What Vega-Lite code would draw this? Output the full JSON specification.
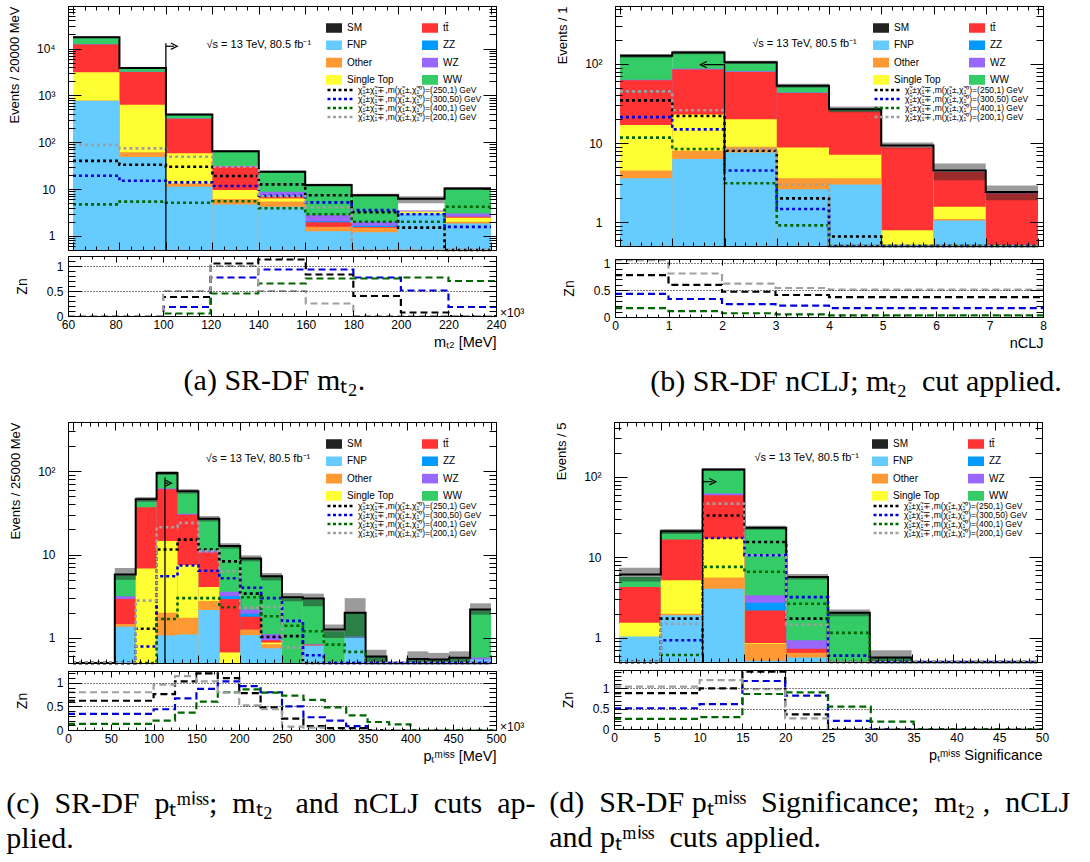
{
"$schema":"https://vega.github.io/schema/vega-lite/v6.json",
"background":"white",
"padding":{"left":6,"top":5,"right":0,"bottom":0},
"config":{
 "font":"Liberation Sans",
 "view":{"stroke":"black","strokeWidth":1},
 "axis":{"labelFont":"Liberation Sans","labelFontSize":12,"labelColor":"black","titleFont":"Liberation Sans","titleFontWeight":"normal","titleColor":"black","tickColor":"black","tickWidth":1,"domainColor":"black","domainWidth":1,"grid":false,"labelFlush":false,"labelOverlap":false},
 "legend":{"labelFont":"Liberation Sans","labelColor":"black"},
 "title":{"font":"Liberation Serif","fontSize":30,"fontWeight":"normal","color":"black"}
},
"datasets":{
"stack":[
{"p":"a","c":"WW","lo":60,"hi":80,"v":17000},{"p":"a","c":"WW","lo":80,"hi":100,"v":3800},{"p":"a","c":"WW","lo":100,"hi":120,"v":385},{"p":"a","c":"WW","lo":120,"hi":140,"v":64},{"p":"a","c":"WW","lo":140,"hi":160,"v":23.5},{"p":"a","c":"WW","lo":160,"hi":180,"v":12.2},{"p":"a","c":"WW","lo":180,"hi":200,"v":7.4},{"p":"a","c":"WW","lo":220,"hi":240,"v":10.3},
{"p":"b","c":"WW","lo":0,"hi":1,"v":125},{"p":"b","c":"WW","lo":1,"hi":2,"v":137},{"p":"b","c":"WW","lo":2,"hi":3,"v":103},{"p":"b","c":"WW","lo":3,"hi":4,"v":52},{"p":"b","c":"WW","lo":4,"hi":5,"v":26.5},
{"p":"c","c":"WW","lo":50,"hi":75,"v":5.6},{"p":"c","c":"WW","lo":75,"hi":100,"v":45},{"p":"c","c":"WW","lo":100,"hi":125,"v":94},{"p":"c","c":"WW","lo":125,"hi":150,"v":56},{"p":"c","c":"WW","lo":150,"hi":175,"v":26.5},{"p":"c","c":"WW","lo":175,"hi":200,"v":12.5},{"p":"c","c":"WW","lo":200,"hi":225,"v":9.0},{"p":"c","c":"WW","lo":225,"hi":250,"v":5.4},{"p":"c","c":"WW","lo":250,"hi":275,"v":3.0},{"p":"c","c":"WW","lo":275,"hi":300,"v":2.9},{"p":"c","c":"WW","lo":300,"hi":325,"v":1.2},{"p":"c","c":"WW","lo":325,"hi":350,"v":2.0},{"p":"c","c":"WW","lo":350,"hi":375,"v":0.6},{"p":"c","c":"WW","lo":400,"hi":425,"v":0.56},{"p":"c","c":"WW","lo":425,"hi":450,"v":0.55},{"p":"c","c":"WW","lo":450,"hi":475,"v":0.57},{"p":"c","c":"WW","lo":475,"hi":500,"v":2.15},
{"p":"d","c":"WW","lo":0,"hi":5,"v":5.7},{"p":"d","c":"WW","lo":5,"hi":10,"v":20.7},{"p":"d","c":"WW","lo":10,"hi":15,"v":121},{"p":"d","c":"WW","lo":15,"hi":20,"v":23.2},{"p":"d","c":"WW","lo":20,"hi":25,"v":5.6},{"p":"d","c":"WW","lo":25,"hi":30,"v":2.03},{"p":"d","c":"WW","lo":30,"hi":35,"v":0.56},
{"p":"a","c":"WZ","lo":60,"hi":80,"v":12300},{"p":"a","c":"WZ","lo":80,"hi":100,"v":3200},{"p":"a","c":"WZ","lo":100,"hi":120,"v":320},{"p":"a","c":"WZ","lo":120,"hi":140,"v":31},{"p":"a","c":"WZ","lo":140,"hi":160,"v":8.8},{"p":"a","c":"WZ","lo":160,"hi":180,"v":2.8},{"p":"a","c":"WZ","lo":180,"hi":200,"v":2.0},{"p":"a","c":"WZ","lo":200,"hi":220,"v":3.5},{"p":"a","c":"WZ","lo":220,"hi":240,"v":3.0},
{"p":"b","c":"WZ","lo":0,"hi":1,"v":63},{"p":"b","c":"WZ","lo":1,"hi":2,"v":87},{"p":"b","c":"WZ","lo":2,"hi":3,"v":81},{"p":"b","c":"WZ","lo":3,"hi":4,"v":43.5},{"p":"b","c":"WZ","lo":7,"hi":8,"v":2.35},
{"p":"c","c":"WZ","lo":50,"hi":75,"v":3.16},{"p":"c","c":"WZ","lo":100,"hi":125,"v":62},{"p":"c","c":"WZ","lo":125,"hi":150,"v":31},{"p":"c","c":"WZ","lo":150,"hi":175,"v":11.1},{"p":"c","c":"WZ","lo":175,"hi":200,"v":3.58},{"p":"c","c":"WZ","lo":200,"hi":225,"v":2.2},{"p":"c","c":"WZ","lo":225,"hi":250,"v":1.11},{"p":"c","c":"WZ","lo":275,"hi":300,"v":0.84},{"p":"c","c":"WZ","lo":475,"hi":500,"v":0.58},
{"p":"d","c":"WZ","lo":10,"hi":15,"v":62},{"p":"d","c":"WZ","lo":15,"hi":20,"v":3.37},{"p":"d","c":"WZ","lo":20,"hi":25,"v":0.93},
{"p":"a","c":"ZZ","lo":140,"hi":160,"v":7.4},{"p":"a","c":"ZZ","lo":160,"hi":180,"v":2.06},{"p":"a","c":"ZZ","lo":180,"hi":200,"v":1.65},
{"p":"c","c":"ZZ","lo":175,"hi":200,"v":3.16},{"p":"c","c":"ZZ","lo":200,"hi":225,"v":1.95},
{"p":"d","c":"ZZ","lo":15,"hi":20,"v":2.73},
{"p":"a","c":"tt\u0304","lo":60,"hi":80,"v":12200},{"p":"a","c":"tt\u0304","lo":80,"hi":100,"v":3160},{"p":"a","c":"tt\u0304","lo":100,"hi":120,"v":316},{"p":"a","c":"tt\u0304","lo":120,"hi":140,"v":30},{"p":"a","c":"tt\u0304","lo":140,"hi":160,"v":6.9},{"p":"a","c":"tt\u0304","lo":160,"hi":180,"v":1.95},{"p":"a","c":"tt\u0304","lo":180,"hi":200,"v":1.55},{"p":"a","c":"tt\u0304","lo":220,"hi":240,"v":2.55},
{"p":"b","c":"tt\u0304","lo":0,"hi":1,"v":62},{"p":"b","c":"tt\u0304","lo":1,"hi":2,"v":85},{"p":"b","c":"tt\u0304","lo":2,"hi":3,"v":79},{"p":"b","c":"tt\u0304","lo":3,"hi":4,"v":43},{"p":"b","c":"tt\u0304","lo":4,"hi":5,"v":25},{"p":"b","c":"tt\u0304","lo":5,"hi":6,"v":8.8},{"p":"b","c":"tt\u0304","lo":6,"hi":7,"v":4.3},{"p":"b","c":"tt\u0304","lo":7,"hi":8,"v":2.3},
{"p":"c","c":"tt\u0304","lo":50,"hi":75,"v":2.94},{"p":"c","c":"tt\u0304","lo":75,"hi":100,"v":37},{"p":"c","c":"tt\u0304","lo":100,"hi":125,"v":61},{"p":"c","c":"tt\u0304","lo":125,"hi":150,"v":30},{"p":"c","c":"tt\u0304","lo":150,"hi":175,"v":10.6},{"p":"c","c":"tt\u0304","lo":175,"hi":200,"v":2.94},{"p":"c","c":"tt\u0304","lo":200,"hi":225,"v":1.8},{"p":"c","c":"tt\u0304","lo":225,"hi":250,"v":0.94},{"p":"c","c":"tt\u0304","lo":275,"hi":300,"v":0.83},
{"p":"d","c":"tt\u0304","lo":0,"hi":5,"v":4.27},{"p":"d","c":"tt\u0304","lo":5,"hi":10,"v":16.6},{"p":"d","c":"tt\u0304","lo":10,"hi":15,"v":59},{"p":"d","c":"tt\u0304","lo":15,"hi":20,"v":2.19},{"p":"d","c":"tt\u0304","lo":20,"hi":25,"v":0.73},
{"p":"a","c":"Single Top","lo":60,"hi":80,"v":3100},{"p":"a","c":"Single Top","lo":80,"hi":100,"v":630},{"p":"a","c":"Single Top","lo":100,"hi":120,"v":58},{"p":"a","c":"Single Top","lo":120,"hi":140,"v":9.5},{"p":"a","c":"Single Top","lo":140,"hi":160,"v":6.3},{"p":"a","c":"Single Top","lo":200,"hi":220,"v":3.3},{"p":"a","c":"Single Top","lo":220,"hi":240,"v":2.43},
{"p":"b","c":"Single Top","lo":0,"hi":1,"v":16.9},{"p":"b","c":"Single Top","lo":1,"hi":2,"v":23},{"p":"b","c":"Single Top","lo":2,"hi":3,"v":20},{"p":"b","c":"Single Top","lo":3,"hi":4,"v":8.8},{"p":"b","c":"Single Top","lo":4,"hi":5,"v":7.1},{"p":"b","c":"Single Top","lo":5,"hi":6,"v":0.79},{"p":"b","c":"Single Top","lo":6,"hi":7,"v":1.57},
{"p":"c","c":"Single Top","lo":75,"hi":100,"v":6.8},{"p":"c","c":"Single Top","lo":100,"hi":125,"v":14.6},{"p":"c","c":"Single Top","lo":125,"hi":150,"v":7.5},{"p":"c","c":"Single Top","lo":150,"hi":175,"v":4.07},{"p":"c","c":"Single Top","lo":175,"hi":200,"v":0.67},{"p":"c","c":"Single Top","lo":225,"hi":250,"v":0.88},
{"p":"d","c":"Single Top","lo":0,"hi":5,"v":1.54},{"p":"d","c":"Single Top","lo":5,"hi":10,"v":5.2},{"p":"d","c":"Single Top","lo":10,"hi":15,"v":17.1},{"p":"d","c":"Single Top","lo":15,"hi":20,"v":0.86},
{"p":"a","c":"Other","lo":60,"hi":80,"v":780},{"p":"a","c":"Other","lo":80,"hi":100,"v":61},{"p":"a","c":"Other","lo":100,"hi":120,"v":13.2},{"p":"a","c":"Other","lo":120,"hi":140,"v":6.1},{"p":"a","c":"Other","lo":140,"hi":160,"v":5.4},{"p":"a","c":"Other","lo":160,"hi":180,"v":1.56},{"p":"a","c":"Other","lo":180,"hi":200,"v":1.5},{"p":"a","c":"Other","lo":220,"hi":240,"v":2.0},
{"p":"b","c":"Other","lo":0,"hi":1,"v":4.5},{"p":"b","c":"Other","lo":1,"hi":2,"v":8.0},{"p":"b","c":"Other","lo":2,"hi":3,"v":9.0},{"p":"b","c":"Other","lo":3,"hi":4,"v":3.6},{"p":"b","c":"Other","lo":4,"hi":5,"v":3.6},{"p":"b","c":"Other","lo":6,"hi":7,"v":1.1},
{"p":"c","c":"Other","lo":50,"hi":75,"v":1.47},{"p":"c","c":"Other","lo":100,"hi":125,"v":2.0},{"p":"c","c":"Other","lo":125,"hi":150,"v":1.75},{"p":"c","c":"Other","lo":150,"hi":175,"v":2.78},{"p":"c","c":"Other","lo":200,"hi":225,"v":1.26},{"p":"c","c":"Other","lo":225,"hi":250,"v":0.84},
{"p":"d","c":"Other","lo":5,"hi":10,"v":1.99},{"p":"d","c":"Other","lo":10,"hi":15,"v":5.6},{"p":"d","c":"Other","lo":15,"hi":20,"v":0.84},{"p":"d","c":"Other","lo":20,"hi":25,"v":0.65},
{"p":"a","c":"FNP","lo":60,"hi":80,"v":770},{"p":"a","c":"FNP","lo":80,"hi":100,"v":48.5},{"p":"a","c":"FNP","lo":100,"hi":120,"v":11.2},{"p":"a","c":"FNP","lo":120,"hi":140,"v":4.7},{"p":"a","c":"FNP","lo":140,"hi":160,"v":4.2},{"p":"a","c":"FNP","lo":160,"hi":180,"v":1.26},{"p":"a","c":"FNP","lo":180,"hi":200,"v":1.2},{"p":"a","c":"FNP","lo":200,"hi":220,"v":3.0},{"p":"a","c":"FNP","lo":220,"hi":240,"v":1.84},
{"p":"b","c":"FNP","lo":0,"hi":1,"v":3.6},{"p":"b","c":"FNP","lo":1,"hi":2,"v":6.3},{"p":"b","c":"FNP","lo":2,"hi":3,"v":7.6},{"p":"b","c":"FNP","lo":3,"hi":4,"v":2.6},{"p":"b","c":"FNP","lo":4,"hi":5,"v":3.0},{"p":"b","c":"FNP","lo":6,"hi":7,"v":1.05},
{"p":"c","c":"FNP","lo":50,"hi":75,"v":1.36},{"p":"c","c":"FNP","lo":100,"hi":125,"v":1.07},{"p":"c","c":"FNP","lo":125,"hi":150,"v":1.1},{"p":"c","c":"FNP","lo":150,"hi":175,"v":2.17},{"p":"c","c":"FNP","lo":200,"hi":225,"v":1.08},{"p":"c","c":"FNP","lo":225,"hi":250,"v":0.75},{"p":"c","c":"FNP","lo":275,"hi":300,"v":0.81},{"p":"c","c":"FNP","lo":325,"hi":350,"v":1.05},{"p":"c","c":"FNP","lo":475,"hi":500,"v":0.55},
{"p":"d","c":"FNP","lo":0,"hi":5,"v":1.04},{"p":"d","c":"FNP","lo":5,"hi":10,"v":1.9},{"p":"d","c":"FNP","lo":10,"hi":15,"v":4.07},{"p":"d","c":"FNP","lo":15,"hi":20,"v":0.52},{"p":"d","c":"FNP","lo":20,"hi":25,"v":0.57}
],
"band":[
{"p":"a","lo":60,"hi":80,"dn":16800,"up":18300},{"p":"a","lo":80,"hi":100,"dn":3700,"up":4000},{"p":"a","lo":100,"hi":120,"dn":375,"up":405},{"p":"a","lo":120,"hi":140,"dn":61,"up":67},{"p":"a","lo":140,"hi":160,"dn":22.3,"up":24.8},{"p":"a","lo":160,"hi":180,"dn":11.4,"up":13.0},{"p":"a","lo":180,"hi":200,"dn":6.9,"up":7.9},{"p":"a","lo":200,"hi":220,"dn":5.0,"up":7.0},{"p":"a","lo":220,"hi":240,"dn":9.6,"up":11.0},
{"p":"b","lo":0,"hi":1,"dn":120,"up":134},{"p":"b","lo":1,"hi":2,"dn":133,"up":147},{"p":"b","lo":2,"hi":3,"dn":100,"up":110},{"p":"b","lo":3,"hi":4,"dn":50,"up":56},{"p":"b","lo":4,"hi":5,"dn":24.5,"up":29},{"p":"b","lo":5,"hi":6,"dn":8.6,"up":10.2},{"p":"b","lo":6,"hi":7,"dn":3.4,"up":5.5},{"p":"b","lo":7,"hi":8,"dn":1.9,"up":2.9},
{"p":"c","lo":50,"hi":75,"dn":5.0,"up":6.9},{"p":"c","lo":75,"hi":100,"dn":43,"up":49},{"p":"c","lo":100,"hi":125,"dn":90,"up":100},{"p":"c","lo":125,"hi":150,"dn":54,"up":61},{"p":"c","lo":150,"hi":175,"dn":25,"up":29},{"p":"c","lo":175,"hi":200,"dn":11.8,"up":13.7},{"p":"c","lo":200,"hi":225,"dn":8.3,"up":9.8},{"p":"c","lo":225,"hi":250,"dn":4.9,"up":6.0},{"p":"c","lo":250,"hi":275,"dn":2.75,"up":3.45},{"p":"c","lo":275,"hi":300,"dn":2.4,"up":3.4},{"p":"c","lo":300,"hi":325,"dn":1.0,"up":1.45},{"p":"c","lo":325,"hi":350,"dn":1.0,"up":3.0},{"p":"c","lo":350,"hi":375,"dn":0.5,"up":0.72},{"p":"c","lo":400,"hi":425,"dn":0.5,"up":0.69},{"p":"c","lo":425,"hi":450,"dn":0.5,"up":0.66},{"p":"c","lo":450,"hi":475,"dn":0.5,"up":0.69},{"p":"c","lo":475,"hi":500,"dn":1.9,"up":2.6},
{"p":"d","lo":0,"hi":5,"dn":5.0,"up":7.4},{"p":"d","lo":5,"hi":10,"dn":19.5,"up":22.5},{"p":"d","lo":10,"hi":15,"dn":118,"up":128},{"p":"d","lo":15,"hi":20,"dn":22,"up":24.6},{"p":"d","lo":20,"hi":25,"dn":5.3,"up":6.2},{"p":"d","lo":25,"hi":30,"dn":1.85,"up":2.25},{"p":"d","lo":30,"hi":35,"dn":0.5,"up":0.7}
],
"tot":[
{"p":"a","x":60,"v":17500},{"p":"a","x":80,"v":3850},{"p":"a","x":100,"v":390},{"p":"a","x":120,"v":64},{"p":"a","x":140,"v":23.5},{"p":"a","x":160,"v":12.2},{"p":"a","x":180,"v":7.4},{"p":"a","x":200,"v":6.2},{"p":"a","x":220,"v":10.3},{"p":"a","x":240,"v":10.3},
{"p":"b","x":0,"v":127},{"p":"b","x":1,"v":140},{"p":"b","x":2,"v":105},{"p":"b","x":3,"v":53},{"p":"b","x":4,"v":26.7},{"p":"b","x":5,"v":9.3},{"p":"b","x":6,"v":4.5},{"p":"b","x":7,"v":2.4},{"p":"b","x":8,"v":2.4},
{"p":"c","x":0,"v":0},{"p":"c","x":25,"v":0},{"p":"c","x":50,"v":5.75},{"p":"c","x":75,"v":46},{"p":"c","x":100,"v":95},{"p":"c","x":125,"v":57.5},{"p":"c","x":150,"v":27},{"p":"c","x":175,"v":12.7},{"p":"c","x":200,"v":9.0},{"p":"c","x":225,"v":5.5},{"p":"c","x":250,"v":3.08},{"p":"c","x":275,"v":2.97},{"p":"c","x":300,"v":1.26},{"p":"c","x":325,"v":2.0},{"p":"c","x":350,"v":0.6},{"p":"c","x":375,"v":0},{"p":"c","x":400,"v":0.56},{"p":"c","x":425,"v":0.55},{"p":"c","x":450,"v":0.58},{"p":"c","x":475,"v":2.19},{"p":"c","x":500,"v":2.19},
{"p":"d","x":0,"v":6.1},{"p":"d","x":5,"v":21},{"p":"d","x":10,"v":123},{"p":"d","x":15,"v":23.3},{"p":"d","x":20,"v":5.7},{"p":"d","x":25,"v":2.05},{"p":"d","x":30,"v":0.57},{"p":"d","x":35,"v":0},{"p":"d","x":40,"v":0},{"p":"d","x":45,"v":0},{"p":"d","x":50,"v":0}
],
"sig":[
{"p":"a","s":"k","x":60,"ev":40,"zn":0},{"p":"a","s":"k","x":80,"ev":33,"zn":0},{"p":"a","s":"k","x":100,"ev":30,"zn":0.38},{"p":"a","s":"k","x":120,"ev":19,"zn":1.05},{"p":"a","s":"k","x":140,"ev":12.6,"zn":1.13},{"p":"a","s":"k","x":160,"ev":7.4,"zn":0.83},{"p":"a","s":"k","x":180,"ev":3.2,"zn":0.4},{"p":"a","s":"k","x":200,"ev":1.5,"zn":0.07},{"p":"a","s":"k","x":220,"ev":0,"zn":0},{"p":"a","s":"k","x":240,"ev":0,"zn":0},
{"p":"a","s":"b","x":60,"ev":19.3,"zn":0},{"p":"a","s":"b","x":80,"ev":15,"zn":0},{"p":"a","s":"b","x":100,"ev":13.9,"zn":0.18},{"p":"a","s":"b","x":120,"ev":11.6,"zn":0.77},{"p":"a","s":"b","x":140,"ev":7.2,"zn":0.93},{"p":"a","s":"b","x":160,"ev":5.2,"zn":0.93},{"p":"a","s":"b","x":180,"ev":3.55,"zn":0.77},{"p":"a","s":"b","x":200,"ev":2.9,"zn":0.51},{"p":"a","s":"b","x":220,"ev":1.56,"zn":0.18},{"p":"a","s":"b","x":240,"ev":1.56,"zn":0.18},
{"p":"a","s":"g","x":60,"ev":4.7,"zn":0},{"p":"a","s":"g","x":80,"ev":5.4,"zn":0},{"p":"a","s":"g","x":100,"ev":5.1,"zn":0.05},{"p":"a","s":"g","x":120,"ev":5.5,"zn":0.45},{"p":"a","s":"g","x":140,"ev":3.9,"zn":0.65},{"p":"a","s":"g","x":160,"ev":2.9,"zn":0.75},{"p":"a","s":"g","x":180,"ev":2.0,"zn":0.75},{"p":"a","s":"g","x":200,"ev":2.0,"zn":0.77},{"p":"a","s":"g","x":220,"ev":4.2,"zn":0.7},{"p":"a","s":"g","x":240,"ev":4.2,"zn":0.7},
{"p":"a","s":"y","x":60,"ev":88,"zn":0},{"p":"a","s":"y","x":80,"ev":74,"zn":0},{"p":"a","s":"y","x":100,"ev":49,"zn":0.5},{"p":"a","s":"y","x":120,"ev":30,"zn":1.0},{"p":"a","s":"y","x":140,"ev":7,"zn":0.5},{"p":"a","s":"y","x":160,"ev":4.1,"zn":0.25},{"p":"a","s":"y","x":180,"ev":0,"zn":0},{"p":"a","s":"y","x":200,"ev":0,"zn":0},{"p":"a","s":"y","x":220,"ev":0,"zn":0},{"p":"a","s":"y","x":240,"ev":0,"zn":0},
{"p":"b","s":"k","x":0,"ev":34.6,"zn":0.78},{"p":"b","s":"k","x":1,"ev":22,"zn":0.6},{"p":"b","s":"k","x":2,"ev":8,"zn":0.47},{"p":"b","s":"k","x":3,"ev":2,"zn":0.41},{"p":"b","s":"k","x":4,"ev":0.66,"zn":0.37},{"p":"b","s":"k","x":5,"ev":0,"zn":0.37},{"p":"b","s":"k","x":6,"ev":0,"zn":0.37},{"p":"b","s":"k","x":7,"ev":0,"zn":0.37},{"p":"b","s":"k","x":8,"ev":0,"zn":0.37},
{"p":"b","s":"b","x":0,"ev":21.3,"zn":0.43},{"p":"b","s":"b","x":1,"ev":14.9,"zn":0.335},{"p":"b","s":"b","x":2,"ev":4.5,"zn":0.24},{"p":"b","s":"b","x":3,"ev":1.47,"zn":0.21},{"p":"b","s":"b","x":4,"ev":0,"zn":0.165},{"p":"b","s":"b","x":5,"ev":0,"zn":0.165},{"p":"b","s":"b","x":6,"ev":0,"zn":0.165},{"p":"b","s":"b","x":7,"ev":0,"zn":0.165},{"p":"b","s":"b","x":8,"ev":0,"zn":0.165},
{"p":"b","s":"g","x":0,"ev":11.7,"zn":0.165},{"p":"b","s":"g","x":1,"ev":8.4,"zn":0.11},{"p":"b","s":"g","x":2,"ev":3.1,"zn":0.07},{"p":"b","s":"g","x":3,"ev":0.91,"zn":0.05},{"p":"b","s":"g","x":4,"ev":0,"zn":0.03},{"p":"b","s":"g","x":5,"ev":0,"zn":0.03},{"p":"b","s":"g","x":6,"ev":0,"zn":0.03},{"p":"b","s":"g","x":7,"ev":0,"zn":0.03},{"p":"b","s":"g","x":8,"ev":0,"zn":0.03},
{"p":"b","s":"y","x":0,"ev":45,"zn":1.06},{"p":"b","s":"y","x":1,"ev":26,"zn":0.81},{"p":"b","s":"y","x":2,"ev":8.4,"zn":0.62},{"p":"b","s":"y","x":3,"ev":3.0,"zn":0.54},{"p":"b","s":"y","x":4,"ev":0,"zn":0.51},{"p":"b","s":"y","x":5,"ev":0,"zn":0.51},{"p":"b","s":"y","x":6,"ev":0,"zn":0.51},{"p":"b","s":"y","x":7,"ev":0,"zn":0.51},{"p":"b","s":"y","x":8,"ev":0,"zn":0.51},
{"p":"c","s":"k","x":0,"ev":0,"zn":0.62},{"p":"c","s":"k","x":25,"ev":0,"zn":0.62},{"p":"c","s":"k","x":50,"ev":0,"zn":0.62},{"p":"c","s":"k","x":75,"ev":1.29,"zn":0.62},{"p":"c","s":"k","x":100,"ev":11.5,"zn":0.76},{"p":"c","s":"k","x":125,"ev":15.1,"zn":1.03},{"p":"c","s":"k","x":150,"ev":11.5,"zn":1.2},{"p":"c","s":"k","x":175,"ev":8.3,"zn":1.1},{"p":"c","s":"k","x":200,"ev":3.4,"zn":0.78},{"p":"c","s":"k","x":225,"ev":1.03,"zn":0.48},{"p":"c","s":"k","x":250,"ev":1.05,"zn":0.24},{"p":"c","s":"k","x":275,"ev":0,"zn":0.08},{"p":"c","s":"k","x":300,"ev":0,"zn":0.04},{"p":"c","s":"k","x":325,"ev":0,"zn":0.04},{"p":"c","s":"k","x":350,"ev":0,"zn":0},{"p":"c","s":"k","x":375,"ev":0,"zn":0},{"p":"c","s":"k","x":400,"ev":0,"zn":0},{"p":"c","s":"k","x":425,"ev":0,"zn":0},{"p":"c","s":"k","x":450,"ev":0,"zn":0},{"p":"c","s":"k","x":475,"ev":0,"zn":0},{"p":"c","s":"k","x":500,"ev":0,"zn":0},
{"p":"c","s":"b","x":0,"ev":0,"zn":0.34},{"p":"c","s":"b","x":25,"ev":0,"zn":0.34},{"p":"c","s":"b","x":50,"ev":0,"zn":0.34},{"p":"c","s":"b","x":75,"ev":0.79,"zn":0.34},{"p":"c","s":"b","x":100,"ev":5.5,"zn":0.44},{"p":"c","s":"b","x":125,"ev":7.4,"zn":0.67},{"p":"c","s":"b","x":150,"ev":6.4,"zn":0.87},{"p":"c","s":"b","x":175,"ev":5.2,"zn":1.03},{"p":"c","s":"b","x":200,"ev":4.0,"zn":0.93},{"p":"c","s":"b","x":225,"ev":3.0,"zn":0.8},{"p":"c","s":"b","x":250,"ev":1.6,"zn":0.5},{"p":"c","s":"b","x":275,"ev":0.62,"zn":0.27},{"p":"c","s":"b","x":300,"ev":0.4,"zn":0.2},{"p":"c","s":"b","x":325,"ev":0,"zn":0.08},{"p":"c","s":"b","x":350,"ev":0,"zn":0},{"p":"c","s":"b","x":375,"ev":0,"zn":0},{"p":"c","s":"b","x":400,"ev":0,"zn":0},{"p":"c","s":"b","x":425,"ev":0,"zn":0},{"p":"c","s":"b","x":450,"ev":0,"zn":0},{"p":"c","s":"b","x":475,"ev":0,"zn":0},{"p":"c","s":"b","x":500,"ev":0,"zn":0},
{"p":"c","s":"g","x":0,"ev":0,"zn":0.13},{"p":"c","s":"g","x":25,"ev":0,"zn":0.13},{"p":"c","s":"g","x":50,"ev":0,"zn":0.13},{"p":"c","s":"g","x":75,"ev":0,"zn":0.13},{"p":"c","s":"g","x":100,"ev":1.69,"zn":0.2},{"p":"c","s":"g","x":125,"ev":3.0,"zn":0.37},{"p":"c","s":"g","x":150,"ev":3.0,"zn":0.6},{"p":"c","s":"g","x":175,"ev":2.33,"zn":0.8},{"p":"c","s":"g","x":200,"ev":3.08,"zn":0.86},{"p":"c","s":"g","x":225,"ev":1.82,"zn":0.79},{"p":"c","s":"g","x":250,"ev":1.4,"zn":0.73},{"p":"c","s":"g","x":275,"ev":1.2,"zn":0.64},{"p":"c","s":"g","x":300,"ev":0.83,"zn":0.48},{"p":"c","s":"g","x":325,"ev":0.68,"zn":0.31},{"p":"c","s":"g","x":350,"ev":0,"zn":0.17},{"p":"c","s":"g","x":375,"ev":0,"zn":0.12},{"p":"c","s":"g","x":400,"ev":0,"zn":0},{"p":"c","s":"g","x":425,"ev":0,"zn":0},{"p":"c","s":"g","x":450,"ev":0,"zn":0},{"p":"c","s":"g","x":475,"ev":0,"zn":0},{"p":"c","s":"g","x":500,"ev":0,"zn":0},
{"p":"c","s":"y","x":0,"ev":0,"zn":0.8},{"p":"c","s":"y","x":25,"ev":0,"zn":0.8},{"p":"c","s":"y","x":50,"ev":0,"zn":0.8},{"p":"c","s":"y","x":75,"ev":2.8,"zn":0.8},{"p":"c","s":"y","x":100,"ev":21.3,"zn":0.96},{"p":"c","s":"y","x":125,"ev":24,"zn":1.14},{"p":"c","s":"y","x":150,"ev":11,"zn":1.03},{"p":"c","s":"y","x":175,"ev":6.3,"zn":0.79},{"p":"c","s":"y","x":200,"ev":2.3,"zn":0.52},{"p":"c","s":"y","x":225,"ev":2.36,"zn":0.44},{"p":"c","s":"y","x":250,"ev":0.77,"zn":0.07},{"p":"c","s":"y","x":275,"ev":0,"zn":0.05},{"p":"c","s":"y","x":300,"ev":0,"zn":0},{"p":"c","s":"y","x":325,"ev":0,"zn":0},{"p":"c","s":"y","x":350,"ev":0,"zn":0},{"p":"c","s":"y","x":375,"ev":0,"zn":0},{"p":"c","s":"y","x":400,"ev":0,"zn":0},{"p":"c","s":"y","x":425,"ev":0,"zn":0},{"p":"c","s":"y","x":450,"ev":0,"zn":0},{"p":"c","s":"y","x":475,"ev":0,"zn":0},{"p":"c","s":"y","x":500,"ev":0,"zn":0},
{"p":"d","s":"k","x":0,"ev":0,"zn":0.88},{"p":"d","s":"k","x":5,"ev":1.73,"zn":0.88},{"p":"d","s":"k","x":10,"ev":33,"zn":1.0},{"p":"d","s":"k","x":15,"ev":15.5,"zn":1.41},{"p":"d","s":"k","x":20,"ev":1.73,"zn":0.36},{"p":"d","s":"k","x":25,"ev":0,"zn":0},{"p":"d","s":"k","x":30,"ev":0,"zn":0},{"p":"d","s":"k","x":35,"ev":0,"zn":0},{"p":"d","s":"k","x":40,"ev":0,"zn":0},{"p":"d","s":"k","x":45,"ev":0,"zn":0},{"p":"d","s":"k","x":50,"ev":0,"zn":0},
{"p":"d","s":"b","x":0,"ev":0,"zn":0.51},{"p":"d","s":"b","x":5,"ev":0.93,"zn":0.51},{"p":"d","s":"b","x":10,"ev":17.4,"zn":0.61},{"p":"d","s":"b","x":15,"ev":10.6,"zn":1.18},{"p":"d","s":"b","x":20,"ev":3.2,"zn":0.82},{"p":"d","s":"b","x":25,"ev":0.6,"zn":0.2},{"p":"d","s":"b","x":30,"ev":0,"zn":0},{"p":"d","s":"b","x":35,"ev":0,"zn":0},{"p":"d","s":"b","x":40,"ev":0,"zn":0},{"p":"d","s":"b","x":45,"ev":0,"zn":0},{"p":"d","s":"b","x":50,"ev":0,"zn":0},
{"p":"d","s":"g","x":0,"ev":0,"zn":0.25},{"p":"d","s":"g","x":5,"ev":0.61,"zn":0.25},{"p":"d","s":"g","x":10,"ev":7.6,"zn":0.29},{"p":"d","s":"g","x":15,"ev":6.6,"zn":0.86},{"p":"d","s":"g","x":20,"ev":2.65,"zn":0.9},{"p":"d","s":"g","x":25,"ev":1.15,"zn":0.55},{"p":"d","s":"g","x":30,"ev":0,"zn":0.18},{"p":"d","s":"g","x":35,"ev":0,"zn":0},{"p":"d","s":"g","x":40,"ev":0,"zn":0},{"p":"d","s":"g","x":45,"ev":0,"zn":0},{"p":"d","s":"g","x":50,"ev":0,"zn":0},
{"p":"d","s":"y","x":0,"ev":0,"zn":1.04},{"p":"d","s":"y","x":5,"ev":1.49,"zn":1.04},{"p":"d","s":"y","x":10,"ev":46.5,"zn":1.2},{"p":"d","s":"y","x":15,"ev":10.6,"zn":0.98},{"p":"d","s":"y","x":20,"ev":1.45,"zn":0.26},{"p":"d","s":"y","x":25,"ev":0,"zn":0},{"p":"d","s":"y","x":30,"ev":0,"zn":0},{"p":"d","s":"y","x":35,"ev":0,"zn":0},{"p":"d","s":"y","x":40,"ev":0,"zn":0},{"p":"d","s":"y","x":45,"ev":0,"zn":0},{"p":"d","s":"y","x":50,"ev":0,"zn":0}
],
"cut":[
{"p":"a","x":100,"top":13000,"ax":103.5,"ay":11200,"dir":"r"},
{"p":"b","x":2,"top":100,"ax":1.6,"ay":98,"dir":"l"},
{"p":"c","x":110,"top":84,"ax":114,"ay":72,"dir":"r"},
{"p":"d","x":10,"top":90,"ax":11.2,"ay":87,"dir":"r"}
],
"lab":[
{"p":"a","x":117.5,"y":12100,"t":"\u221as = 13 TeV, 80.5 fb\u207b\u00b9"},
{"p":"b","x":2.53,"y":178,"t":"\u221as = 13 TeV, 80.5 fb\u207b\u00b9"},
{"p":"c","x":158.7,"y":141,"t":"\u221as = 13 TeV, 80.5 fb\u207b\u00b9"},
{"p":"d","x":16.2,"y":169,"t":"\u221as = 13 TeV, 80.5 fb\u207b\u00b9"}
],
"x10":[
{"p":"a","x":240,"t":"\u00d710\u00b3"},
{"p":"c","x":500,"t":"\u00d710\u00b3"}
]
},
"spacing":24,
"resolve":{"scale":{"x":"independent","y":"independent","fill":"independent","stroke":"independent","shape":"independent"},"legend":{"fill":"independent","stroke":"independent","shape":"independent"}},
"vconcat":[
{"spacing":31,
 "resolve":{"scale":{"x":"independent","y":"independent","fill":"independent","stroke":"independent","shape":"independent"},"legend":{"fill":"independent","stroke":"independent","shape":"independent"}},
 "hconcat":[
 {"title":{"text":"(a) SR-DF m\u209c\u2082.","orient":"bottom","anchor":"middle","offset":17,"dx":8},
  "spacing":-3,
  "resolve":{"scale":{"x":"independent","y":"independent","fill":"independent","stroke":"independent","shape":"independent"},"legend":{"fill":"independent","stroke":"independent","shape":"independent"}},
  "vconcat":[
  {"width":428,"height":244,
   "resolve":{"axis":{"x":"independent","y":"independent"}},
   "layer":[
    {"data":{"name":"stack"},"transform":[{"filter":"datum.p=='a'"}],
     "mark":{"type":"bar","orient":"vertical","strokeWidth":0},
     "encoding":{
      "x":{"field":"lo","type":"quantitative","scale":{"domain":[60,240],"nice":false,"zero":false},"axis":{"orient":"bottom","values":[60,80,100,120,140,160,180,200,220,240],"labels":false,"title":null,"tickSize":-8,"domain":true,"zindex":1}},
      "x2":{"field":"hi"},
      "y":{"field":"v","type":"quantitative","stack":null,"scale":{"type":"log","domain":[0.5,81000],"nice":false,"clamp":true},"axis":{"orient":"left","values":[1,10,100,1000,10000],"labelExpr":"datum.value==1?'1':datum.value==10?'10':datum.value==100?'10\u00b2':datum.value==1000?'10\u00b3':'10\u2074'","ticks":false,"domain":false,"labelPadding":13,"title":"Events / 20000 MeV","titleAnchor":"end","titleFontSize":13,"titlePadding":15}},
      "fill":{"field":"c","type":"nominal","scale":{"domain":["SM","FNP","Other","Single Top","tt\u0304","ZZ","WZ","WW"],"range":["#222222","#66ccff","#ff9933","#ffff33","#ff3333","#0099ff","#9966ff","#33cc66"]},
        "legend":{"orient":"none","legendX":258,"legendY":13.5,"title":null,"columns":2,"columnPadding":28,"rowPadding":0.3,"clipHeight":17,"symbolType":"M-1,-0.6H1V0.6H-1Z","symbolSize":256,"symbolStrokeWidth":0,"labelFontSize":10,"labelOffset":5,"padding":0,"labelLimit":200}}
     }},
    {"data":{"name":"band"},"transform":[{"filter":"datum.p=='a'"}],
     "mark":{"type":"bar","orient":"vertical","fillOpacity":0.45,"strokeWidth":0},
     "encoding":{
      "x":{"field":"lo","type":"quantitative","axis":{"orient":"top","values":[60,80,100,120,140,160,180,200,220,240],"labels":false,"title":null,"tickSize":-8,"domain":true,"zindex":1}},
      "x2":{"field":"hi"},
      "y":{"field":"dn","type":"quantitative","axis":{"orient":"right","values":[1,10,100,1000,10000],"labels":false,"title":null,"tickSize":-13,"domain":true,"zindex":1}},
      "y2":{"field":"up"},
      "fill":{"datum":"SM"}
     }},
    {"data":{"name":"tot"},"transform":[{"filter":"datum.p=='a'"}],
     "mark":{"type":"line","interpolate":"step-after","color":"black","strokeWidth":2},
     "encoding":{
      "x":{"field":"x","type":"quantitative","axis":{"orient":"bottom","values":[60,65,70,75,80,85,90,95,100,105,110,115,120,125,130,135,140,145,150,155,160,165,170,175,180,185,190,195,200,205,210,215,220,225,230,235,240],"labels":false,"title":null,"tickSize":-4,"domain":false,"zindex":1}},
      "y":{"field":"v","type":"quantitative","axis":{"orient":"left","values":[1,10,100,1000,10000],"labels":false,"title":null,"tickSize":-13,"domain":true,"zindex":1}}
     }},
    {"data":{"name":"sig"},"transform":[{"filter":"datum.p=='a'"}],
     "mark":{"type":"line","interpolate":"step-after","strokeWidth":2.6,"strokeDash":[3,3]},
     "encoding":{
      "x":{"field":"x","type":"quantitative","axis":{"orient":"top","values":[60,65,70,75,80,85,90,95,100,105,110,115,120,125,130,135,140,145,150,155,160,165,170,175,180,185,190,195,200,205,210,215,220,225,230,235,240],"labels":false,"title":null,"tickSize":-4,"domain":false,"zindex":1}},
      "y":{"field":"ev","type":"quantitative","axis":{"orient":"right","values":[0.6,0.7,0.8,0.9,2,3,4,5,6,7,8,9,20,30,40,50,60,70,80,90,200,300,400,500,600,700,800,900,2000,3000,4000,5000,6000,7000,8000,9000,20000,30000,40000,50000,60000,70000,80000],"labels":false,"title":null,"tickSize":-7,"domain":false,"zindex":1}},
      "stroke":{"field":"s","type":"nominal","scale":{"domain":["k","b","g","y"],"range":["#000000","#0000dd","#006600","#a0a0a0"]},
        "legend":{"orient":"none","legendX":258,"legendY":79.5,"title":null,"symbolType":"stroke","symbolSize":676,"symbolStrokeWidth":2.5,"symbolDash":[3,2.5],"labelFontSize":8.5,"labelOffset":3,"rowPadding":0,"clipHeight":9,"padding":0,"labelLimit":300,
        "labelExpr":"datum.label=='k'?'\u03c7\u0303\u2081\u00b1\u03c7\u0303\u2081\u2213,m(\u03c7\u0303\u2081\u00b1,\u03c7\u0303\u2081\u2070)=(250,1) GeV':datum.label=='b'?'\u03c7\u0303\u2081\u00b1\u03c7\u0303\u2081\u2213,m(\u03c7\u0303\u2081\u00b1,\u03c7\u0303\u2081\u2070)=(300,50) GeV':datum.label=='g'?'\u03c7\u0303\u2081\u00b1\u03c7\u0303\u2081\u2213,m(\u03c7\u0303\u2081\u00b1,\u03c7\u0303\u2081\u2070)=(400,1) GeV':'\u03c7\u0303\u2081\u00b1\u03c7\u0303\u2081\u2213,m(\u03c7\u0303\u2081\u00b1,\u03c7\u0303\u2081\u2070)=(200,1) GeV'"}}
     }},
    {"data":{"name":"cut"},"transform":[{"filter":"datum.p=='a'"}],
     "mark":{"type":"rule","color":"black","strokeWidth":1.3},
     "encoding":{
      "x":{"field":"x","type":"quantitative","axis":null},
      "y":{"field":"top","type":"quantitative","axis":{"orient":"left","values":[0.6,0.7,0.8,0.9,2,3,4,5,6,7,8,9,20,30,40,50,60,70,80,90,200,300,400,500,600,700,800,900,2000,3000,4000,5000,6000,7000,8000,9000,20000,30000,40000,50000,60000,70000,80000],"labels":false,"title":null,"tickSize":-7,"domain":false,"zindex":1}},
      "y2":{"datum":0.5}
     }},
    {"data":{"name":"cut"},"transform":[{"filter":"datum.p=='a'"}],
     "mark":{"type":"rule","color":"black","strokeWidth":1.2},
     "encoding":{"x":{"field":"x","type":"quantitative","axis":null},"x2":{"field":"ax"},"y":{"field":"ay","type":"quantitative","axis":null}}},
    {"data":{"name":"cut"},"transform":[{"filter":"datum.p=='a'"}],
     "mark":{"type":"point","filled":false,"color":"black","size":40,"strokeWidth":1.2,"opacity":1},
     "encoding":{"x":{"field":"ax","type":"quantitative","axis":null},"y":{"field":"ay","type":"quantitative","axis":null},"shape":{"field":"dir","type":"nominal","scale":{"domain":["r","l"],"range":["M-1,-1L1,0L-1,1","M1,-1L-1,0L1,1"]},"legend":null}}},
    {"data":{"name":"lab"},"transform":[{"filter":"datum.p=='a'"}],
     "mark":{"type":"text","align":"left","baseline":"middle","fontSize":11,"font":"Liberation Sans"},
     "encoding":{"x":{"field":"x","type":"quantitative","axis":null},"y":{"field":"y","type":"quantitative","axis":null},"text":{"field":"t"}}}
   ]},
  {"width":428,"height":60,
   "resolve":{"axis":{"x":"independent","y":"independent"}},
   "layer":[
    {"data":{"name":"sig"},"transform":[{"filter":"datum.p=='a'"}],
     "mark":{"type":"line","interpolate":"step-after","strokeWidth":2.2,"strokeDash":[7,4]},
     "encoding":{
      "x":{"field":"x","type":"quantitative","scale":{"domain":[60,240],"nice":false,"zero":false},"axis":{"orient":"bottom","values":[60,80,100,120,140,160,180,200,220,240],"format":"d","ticks":false,"domain":true,"labelPadding":3,"title":"m\u209c\u2082 [MeV]","titleAnchor":"end","titleFontSize":14.5,"titlePadding":5,"zindex":1}},
      "y":{"field":"zn","type":"quantitative","scale":{"domain":[0,1.2],"nice":false,"zero":false},"axis":{"orient":"left","values":[0,0.5,1],"format":"~g","ticks":false,"domain":true,"labelPadding":5,"title":"Zn","titleFontSize":14,"titlePadding":17,"zindex":1}},
      "stroke":{"field":"s","type":"nominal","scale":{"domain":["k","b","g","y"],"range":["#000000","#0000dd","#006600","#a0a0a0"]},"legend":null}
     }},
    {"data":{"name":"sig"},"transform":[{"filter":"datum.p=='a'"}],"mark":{"type":"point","opacity":0},
     "encoding":{
      "x":{"field":"x","type":"quantitative","axis":{"orient":"top","values":[60,80,100,120,140,160,180,200,220,240],"labels":false,"title":null,"tickSize":-6,"domain":true,"zindex":1}},
      "y":{"field":"zn","type":"quantitative","axis":{"orient":"right","values":[0,0.5,1],"labels":false,"title":null,"tickSize":-13,"domain":true,"grid":true,"gridDash":[1,2],"gridColor":"black","zindex":1}}
     }},
    {"data":{"name":"sig"},"transform":[{"filter":"datum.p=='a'"}],"mark":{"type":"point","opacity":0},
     "encoding":{
      "x":{"field":"x","type":"quantitative","axis":{"orient":"bottom","values":[60,80,100,120,140,160,180,200,220,240],"labels":false,"title":null,"tickSize":-6,"domain":false,"zindex":1}},
      "y":{"field":"zn","type":"quantitative","axis":{"orient":"left","values":[0,0.5,1],"labels":false,"title":null,"tickSize":-13,"domain":false,"zindex":1}}
     }},
    {"data":{"name":"sig"},"transform":[{"filter":"datum.p=='a'"}],"mark":{"type":"point","opacity":0},
     "encoding":{
      "x":{"field":"x","type":"quantitative","axis":{"orient":"bottom","values":[60,65,70,75,80,85,90,95,100,105,110,115,120,125,130,135,140,145,150,155,160,165,170,175,180,185,190,195,200,205,210,215,220,225,230,235,240],"labels":false,"title":null,"tickSize":-3,"domain":false,"zindex":1}},
      "y":{"field":"zn","type":"quantitative","axis":{"orient":"left","values":[0.1,0.2,0.3,0.4,0.6,0.7,0.8,0.9,1.1,1.2],"labels":false,"title":null,"tickSize":-7,"domain":false,"zindex":1}}
     }},
    {"data":{"name":"sig"},"transform":[{"filter":"datum.p=='a'"}],"mark":{"type":"point","opacity":0},
     "encoding":{
      "x":{"field":"x","type":"quantitative","axis":{"orient":"top","values":[60,65,70,75,80,85,90,95,100,105,110,115,120,125,130,135,140,145,150,155,160,165,170,175,180,185,190,195,200,205,210,215,220,225,230,235,240],"labels":false,"title":null,"tickSize":-3,"domain":false,"zindex":1}},
      "y":{"field":"zn","type":"quantitative","axis":{"orient":"right","values":[0.1,0.2,0.3,0.4,0.6,0.7,0.8,0.9,1.1,1.2],"labels":false,"title":null,"tickSize":-7,"domain":false,"zindex":1}}
     }},
    {"data":{"name":"x10"},"transform":[{"filter":"datum.p=='a'"}],
     "mark":{"type":"text","align":"left","baseline":"middle","dx":4,"dy":-3,"fontSize":12,"font":"Liberation Sans"},
     "encoding":{"x":{"field":"x","type":"quantitative","axis":null},"y":{"datum":0,"type":"quantitative","axis":null},"text":{"field":"t"}}}
   ]}
  ]},
 {"title":{"text":"(b) SR-DF nCLJ; m\u209c\u2082\u00a0 cut applied.","orient":"bottom","anchor":"middle","offset":17,"dx":54},
  "spacing":3,
  "resolve":{"scale":{"x":"independent","y":"independent","fill":"independent","stroke":"independent","shape":"independent"},"legend":{"fill":"independent","stroke":"independent","shape":"independent"}},
  "vconcat":[
  {"width":428,"height":240,
   "resolve":{"axis":{"x":"independent","y":"independent"}},
   "layer":[
    {"data":{"name":"stack"},"transform":[{"filter":"datum.p=='b'"}],
     "mark":{"type":"bar","orient":"vertical","strokeWidth":0},
     "encoding":{
      "x":{"field":"lo","type":"quantitative","scale":{"domain":[0,8],"nice":false,"zero":false},"axis":{"orient":"bottom","values":[0,1,2,3,4,5,6,7,8],"labels":false,"title":null,"tickSize":-8,"domain":true,"zindex":1}},
      "x2":{"field":"hi"},
      "y":{"field":"v","type":"quantitative","stack":null,"scale":{"type":"log","domain":[0.5,540],"nice":false,"clamp":true},"axis":{"orient":"left","values":[1,10,100],"labelExpr":"datum.value==1?'1':datum.value==10?'10':'10\u00b2'","ticks":false,"domain":false,"labelPadding":13,"title":"Events / 1","titleAnchor":"end","titleFontSize":13,"titlePadding":15}},
      "fill":{"field":"c","type":"nominal","scale":{"domain":["SM","FNP","Other","Single Top","tt\u0304","ZZ","WZ","WW"],"range":["#222222","#66ccff","#ff9933","#ffff33","#ff3333","#0099ff","#9966ff","#33cc66"]},
        "legend":{"orient":"none","legendX":258,"legendY":13.5,"title":null,"columns":2,"columnPadding":28,"rowPadding":0.3,"clipHeight":17,"symbolType":"M-1,-0.6H1V0.6H-1Z","symbolSize":256,"symbolStrokeWidth":0,"labelFontSize":10,"labelOffset":5,"padding":0,"labelLimit":200}}
     }},
    {"data":{"name":"band"},"transform":[{"filter":"datum.p=='b'"}],
     "mark":{"type":"bar","orient":"vertical","fillOpacity":0.45,"strokeWidth":0},
     "encoding":{
      "x":{"field":"lo","type":"quantitative","axis":{"orient":"top","values":[0,1,2,3,4,5,6,7,8],"labels":false,"title":null,"tickSize":-8,"domain":true,"zindex":1}},
      "x2":{"field":"hi"},
      "y":{"field":"dn","type":"quantitative","axis":{"orient":"right","values":[1,10,100],"labels":false,"title":null,"tickSize":-13,"domain":true,"zindex":1}},
      "y2":{"field":"up"},
      "fill":{"datum":"SM"}
     }},
    {"data":{"name":"tot"},"transform":[{"filter":"datum.p=='b'"}],
     "mark":{"type":"line","interpolate":"step-after","color":"black","strokeWidth":2},
     "encoding":{
      "x":{"field":"x","type":"quantitative","axis":{"orient":"bottom","values":[0,0.2,0.4,0.6,0.8,1,1.2,1.4,1.6,1.8,2,2.2,2.4,2.6,2.8,3,3.2,3.4,3.6,3.8,4,4.2,4.4,4.6,4.8,5,5.2,5.4,5.6,5.8,6,6.2,6.4,6.6,6.8,7,7.2,7.4,7.6,7.8,8],"labels":false,"title":null,"tickSize":-4,"domain":false,"zindex":1}},
      "y":{"field":"v","type":"quantitative","axis":{"orient":"left","values":[1,10,100],"labels":false,"title":null,"tickSize":-13,"domain":true,"zindex":1}}
     }},
    {"data":{"name":"sig"},"transform":[{"filter":"datum.p=='b'"}],
     "mark":{"type":"line","interpolate":"step-after","strokeWidth":2.6,"strokeDash":[3,3]},
     "encoding":{
      "x":{"field":"x","type":"quantitative","axis":{"orient":"top","values":[0,0.2,0.4,0.6,0.8,1,1.2,1.4,1.6,1.8,2,2.2,2.4,2.6,2.8,3,3.2,3.4,3.6,3.8,4,4.2,4.4,4.6,4.8,5,5.2,5.4,5.6,5.8,6,6.2,6.4,6.6,6.8,7,7.2,7.4,7.6,7.8,8],"labels":false,"title":null,"tickSize":-4,"domain":false,"zindex":1}},
      "y":{"field":"ev","type":"quantitative","axis":{"orient":"right","values":[0.6,0.7,0.8,0.9,2,3,4,5,6,7,8,9,20,30,40,50,60,70,80,90,200,300,400,500],"labels":false,"title":null,"tickSize":-7,"domain":false,"zindex":1}},
      "stroke":{"field":"s","type":"nominal","scale":{"domain":["k","b","g","y"],"range":["#000000","#0000dd","#006600","#a0a0a0"]},
        "legend":{"orient":"none","legendX":258,"legendY":79.5,"title":null,"symbolType":"stroke","symbolSize":676,"symbolStrokeWidth":2.5,"symbolDash":[3,2.5],"labelFontSize":8.5,"labelOffset":3,"rowPadding":0,"clipHeight":9,"padding":0,"labelLimit":300,
        "labelExpr":"datum.label=='k'?'\u03c7\u0303\u2081\u00b1\u03c7\u0303\u2081\u2213,m(\u03c7\u0303\u2081\u00b1,\u03c7\u0303\u2081\u2070)=(250,1) GeV':datum.label=='b'?'\u03c7\u0303\u2081\u00b1\u03c7\u0303\u2081\u2213,m(\u03c7\u0303\u2081\u00b1,\u03c7\u0303\u2081\u2070)=(300,50) GeV':datum.label=='g'?'\u03c7\u0303\u2081\u00b1\u03c7\u0303\u2081\u2213,m(\u03c7\u0303\u2081\u00b1,\u03c7\u0303\u2081\u2070)=(400,1) GeV':'\u03c7\u0303\u2081\u00b1\u03c7\u0303\u2081\u2213,m(\u03c7\u0303\u2081\u00b1,\u03c7\u0303\u2081\u2070)=(200,1) GeV'"}}
     }},
    {"data":{"name":"cut"},"transform":[{"filter":"datum.p=='b'"}],
     "mark":{"type":"rule","color":"black","strokeWidth":1.3},
     "encoding":{
      "x":{"field":"x","type":"quantitative","axis":null},
      "y":{"field":"top","type":"quantitative","axis":{"orient":"left","values":[0.6,0.7,0.8,0.9,2,3,4,5,6,7,8,9,20,30,40,50,60,70,80,90,200,300,400,500],"labels":false,"title":null,"tickSize":-7,"domain":false,"zindex":1}},
      "y2":{"datum":0.5}
     }},
    {"data":{"name":"cut"},"transform":[{"filter":"datum.p=='b'"}],
     "mark":{"type":"rule","color":"black","strokeWidth":1.2},
     "encoding":{"x":{"field":"x","type":"quantitative","axis":null},"x2":{"field":"ax"},"y":{"field":"ay","type":"quantitative","axis":null}}},
    {"data":{"name":"cut"},"transform":[{"filter":"datum.p=='b'"}],
     "mark":{"type":"point","filled":false,"color":"black","size":40,"strokeWidth":1.2,"opacity":1},
     "encoding":{"x":{"field":"ax","type":"quantitative","axis":null},"y":{"field":"ay","type":"quantitative","axis":null},"shape":{"field":"dir","type":"nominal","scale":{"domain":["r","l"],"range":["M-1,-1L1,0L-1,1","M1,-1L-1,0L1,1"]},"legend":null}}},
    {"data":{"name":"lab"},"transform":[{"filter":"datum.p=='b'"}],
     "mark":{"type":"text","align":"left","baseline":"middle","fontSize":11,"font":"Liberation Sans"},
     "encoding":{"x":{"field":"x","type":"quantitative","axis":null},"y":{"field":"y","type":"quantitative","axis":null},"text":{"field":"t"}}}
   ]},
  {"width":428,"height":58,
   "resolve":{"axis":{"x":"independent","y":"independent"}},
   "layer":[
    {"data":{"name":"sig"},"transform":[{"filter":"datum.p=='b'"}],
     "mark":{"type":"line","interpolate":"step-after","strokeWidth":2.2,"strokeDash":[7,4]},
     "encoding":{
      "x":{"field":"x","type":"quantitative","scale":{"domain":[0,8],"nice":false,"zero":false},"axis":{"orient":"bottom","values":[0,1,2,3,4,5,6,7,8],"format":"d","ticks":false,"domain":true,"labelPadding":3,"title":"nCLJ","titleAnchor":"end","titleFontSize":14.5,"titlePadding":5,"zindex":1}},
      "y":{"field":"zn","type":"quantitative","scale":{"domain":[0,1.08],"nice":false,"zero":false},"axis":{"orient":"left","values":[0,0.5,1],"format":"~g","ticks":false,"domain":true,"labelPadding":5,"title":"Zn","titleFontSize":14,"titlePadding":17,"zindex":1}},
      "stroke":{"field":"s","type":"nominal","scale":{"domain":["k","b","g","y"],"range":["#000000","#0000dd","#006600","#a0a0a0"]},"legend":null}
     }},
    {"data":{"name":"sig"},"transform":[{"filter":"datum.p=='b'"}],"mark":{"type":"point","opacity":0},
     "encoding":{
      "x":{"field":"x","type":"quantitative","axis":{"orient":"top","values":[0,1,2,3,4,5,6,7,8],"labels":false,"title":null,"tickSize":-6,"domain":true,"zindex":1}},
      "y":{"field":"zn","type":"quantitative","axis":{"orient":"right","values":[0,0.5,1],"labels":false,"title":null,"tickSize":-13,"domain":true,"grid":true,"gridDash":[1,2],"gridColor":"black","zindex":1}}
     }},
    {"data":{"name":"sig"},"transform":[{"filter":"datum.p=='b'"}],"mark":{"type":"point","opacity":0},
     "encoding":{
      "x":{"field":"x","type":"quantitative","axis":{"orient":"bottom","values":[0,1,2,3,4,5,6,7,8],"labels":false,"title":null,"tickSize":-6,"domain":false,"zindex":1}},
      "y":{"field":"zn","type":"quantitative","axis":{"orient":"left","values":[0,0.5,1],"labels":false,"title":null,"tickSize":-13,"domain":false,"zindex":1}}
     }},
    {"data":{"name":"sig"},"transform":[{"filter":"datum.p=='b'"}],"mark":{"type":"point","opacity":0},
     "encoding":{
      "x":{"field":"x","type":"quantitative","axis":{"orient":"bottom","values":[0,0.2,0.4,0.6,0.8,1,1.2,1.4,1.6,1.8,2,2.2,2.4,2.6,2.8,3,3.2,3.4,3.6,3.8,4,4.2,4.4,4.6,4.8,5,5.2,5.4,5.6,5.8,6,6.2,6.4,6.6,6.8,7,7.2,7.4,7.6,7.8,8],"labels":false,"title":null,"tickSize":-3,"domain":false,"zindex":1}},
      "y":{"field":"zn","type":"quantitative","axis":{"orient":"left","values":[0.1,0.2,0.3,0.4,0.6,0.7,0.8,0.9],"labels":false,"title":null,"tickSize":-7,"domain":false,"zindex":1}}
     }},
    {"data":{"name":"sig"},"transform":[{"filter":"datum.p=='b'"}],"mark":{"type":"point","opacity":0},
     "encoding":{
      "x":{"field":"x","type":"quantitative","axis":{"orient":"top","values":[0,0.2,0.4,0.6,0.8,1,1.2,1.4,1.6,1.8,2,2.2,2.4,2.6,2.8,3,3.2,3.4,3.6,3.8,4,4.2,4.4,4.6,4.8,5,5.2,5.4,5.6,5.8,6,6.2,6.4,6.6,6.8,7,7.2,7.4,7.6,7.8,8],"labels":false,"title":null,"tickSize":-3,"domain":false,"zindex":1}},
      "y":{"field":"zn","type":"quantitative","axis":{"orient":"right","values":[0.1,0.2,0.3,0.4,0.6,0.7,0.8,0.9],"labels":false,"title":null,"tickSize":-7,"domain":false,"zindex":1}}
     }}
   ]}
  ]}
 ]},
{"spacing":13,
 "resolve":{"scale":{"x":"independent","y":"independent","fill":"independent","stroke":"independent","shape":"independent"},"legend":{"fill":"independent","stroke":"independent","shape":"independent"}},
 "hconcat":[
 {"title":{"text":["(c)\u00a0 SR-DF\u00a0 p\u209c\u1d50\u2071\u02e2\u02e2;\u00a0 m\u209c\u2082\u00a0\u00a0 and\u00a0 nCLJ\u00a0 cuts\u00a0 ap-","plied."],"orient":"bottom","anchor":"start","offset":26,"dx":-3,"lineHeight":35},
  "spacing":-1,
  "resolve":{"scale":{"x":"independent","y":"independent","fill":"independent","stroke":"independent","shape":"independent"},"legend":{"fill":"independent","stroke":"independent","shape":"independent"}},
  "vconcat":[
  {"width":428,"height":241,
   "resolve":{"axis":{"x":"independent","y":"independent"}},
   "layer":[
    {"data":{"name":"stack"},"transform":[{"filter":"datum.p=='c'"}],
     "mark":{"type":"bar","orient":"vertical","strokeWidth":0},
     "encoding":{
      "x":{"field":"lo","type":"quantitative","scale":{"domain":[0,500],"nice":false,"zero":false},"axis":{"orient":"bottom","values":[0,50,100,150,200,250,300,350,400,450,500],"labels":false,"title":null,"tickSize":-8,"domain":true,"zindex":1}},
      "x2":{"field":"hi"},
      "y":{"field":"v","type":"quantitative","stack":null,"scale":{"type":"log","domain":[0.5,390],"nice":false,"clamp":true},"axis":{"orient":"left","values":[1,10,100],"labelExpr":"datum.value==1?'1':datum.value==10?'10':'10\u00b2'","ticks":false,"domain":false,"labelPadding":13,"title":"Events / 25000 MeV","titleAnchor":"end","titleFontSize":13,"titlePadding":15}},
      "fill":{"field":"c","type":"nominal","scale":{"domain":["SM","FNP","Other","Single Top","tt\u0304","ZZ","WZ","WW"],"range":["#222222","#66ccff","#ff9933","#ffff33","#ff3333","#0099ff","#9966ff","#33cc66"]},
        "legend":{"orient":"none","legendX":258,"legendY":13.5,"title":null,"columns":2,"columnPadding":28,"rowPadding":0.3,"clipHeight":17,"symbolType":"M-1,-0.6H1V0.6H-1Z","symbolSize":256,"symbolStrokeWidth":0,"labelFontSize":10,"labelOffset":5,"padding":0,"labelLimit":200}}
     }},
    {"data":{"name":"band"},"transform":[{"filter":"datum.p=='c'"}],
     "mark":{"type":"bar","orient":"vertical","fillOpacity":0.45,"strokeWidth":0},
     "encoding":{
      "x":{"field":"lo","type":"quantitative","axis":{"orient":"top","values":[0,50,100,150,200,250,300,350,400,450,500],"labels":false,"title":null,"tickSize":-8,"domain":true,"zindex":1}},
      "x2":{"field":"hi"},
      "y":{"field":"dn","type":"quantitative","axis":{"orient":"right","values":[1,10,100],"labels":false,"title":null,"tickSize":-13,"domain":true,"zindex":1}},
      "y2":{"field":"up"},
      "fill":{"datum":"SM"}
     }},
    {"data":{"name":"tot"},"transform":[{"filter":"datum.p=='c'"}],
     "mark":{"type":"line","interpolate":"step-after","color":"black","strokeWidth":2},
     "encoding":{
      "x":{"field":"x","type":"quantitative","axis":{"orient":"bottom","values":[0,10,20,30,40,50,60,70,80,90,100,110,120,130,140,150,160,170,180,190,200,210,220,230,240,250,260,270,280,290,300,310,320,330,340,350,360,370,380,390,400,410,420,430,440,450,460,470,480,490,500],"labels":false,"title":null,"tickSize":-4,"domain":false,"zindex":1}},
      "y":{"field":"v","type":"quantitative","axis":{"orient":"left","values":[1,10,100],"labels":false,"title":null,"tickSize":-13,"domain":true,"zindex":1}}
     }},
    {"data":{"name":"sig"},"transform":[{"filter":"datum.p=='c'"}],
     "mark":{"type":"line","interpolate":"step-after","strokeWidth":2.6,"strokeDash":[3,3]},
     "encoding":{
      "x":{"field":"x","type":"quantitative","axis":{"orient":"top","values":[0,10,20,30,40,50,60,70,80,90,100,110,120,130,140,150,160,170,180,190,200,210,220,230,240,250,260,270,280,290,300,310,320,330,340,350,360,370,380,390,400,410,420,430,440,450,460,470,480,490,500],"labels":false,"title":null,"tickSize":-4,"domain":false,"zindex":1}},
      "y":{"field":"ev","type":"quantitative","axis":{"orient":"right","values":[0.6,0.7,0.8,0.9,2,3,4,5,6,7,8,9,20,30,40,50,60,70,80,90,200,300],"labels":false,"title":null,"tickSize":-7,"domain":false,"zindex":1}},
      "stroke":{"field":"s","type":"nominal","scale":{"domain":["k","b","g","y"],"range":["#000000","#0000dd","#006600","#a0a0a0"]},
        "legend":{"orient":"none","legendX":258,"legendY":79.5,"title":null,"symbolType":"stroke","symbolSize":676,"symbolStrokeWidth":2.5,"symbolDash":[3,2.5],"labelFontSize":8.5,"labelOffset":3,"rowPadding":0,"clipHeight":9,"padding":0,"labelLimit":300,
        "labelExpr":"datum.label=='k'?'\u03c7\u0303\u2081\u00b1\u03c7\u0303\u2081\u2213,m(\u03c7\u0303\u2081\u00b1,\u03c7\u0303\u2081\u2070)=(250,1) GeV':datum.label=='b'?'\u03c7\u0303\u2081\u00b1\u03c7\u0303\u2081\u2213,m(\u03c7\u0303\u2081\u00b1,\u03c7\u0303\u2081\u2070)=(300,50) GeV':datum.label=='g'?'\u03c7\u0303\u2081\u00b1\u03c7\u0303\u2081\u2213,m(\u03c7\u0303\u2081\u00b1,\u03c7\u0303\u2081\u2070)=(400,1) GeV':'\u03c7\u0303\u2081\u00b1\u03c7\u0303\u2081\u2213,m(\u03c7\u0303\u2081\u00b1,\u03c7\u0303\u2081\u2070)=(200,1) GeV'"}}
     }},
    {"data":{"name":"cut"},"transform":[{"filter":"datum.p=='c'"}],
     "mark":{"type":"rule","color":"black","strokeWidth":1.3},
     "encoding":{
      "x":{"field":"x","type":"quantitative","axis":null},
      "y":{"field":"top","type":"quantitative","axis":{"orient":"left","values":[0.6,0.7,0.8,0.9,2,3,4,5,6,7,8,9,20,30,40,50,60,70,80,90,200,300],"labels":false,"title":null,"tickSize":-7,"domain":false,"zindex":1}},
      "y2":{"datum":0.5}
     }},
    {"data":{"name":"cut"},"transform":[{"filter":"datum.p=='c'"}],
     "mark":{"type":"rule","color":"black","strokeWidth":1.2},
     "encoding":{"x":{"field":"x","type":"quantitative","axis":null},"x2":{"field":"ax"},"y":{"field":"ay","type":"quantitative","axis":null}}},
    {"data":{"name":"cut"},"transform":[{"filter":"datum.p=='c'"}],
     "mark":{"type":"point","filled":false,"color":"black","size":40,"strokeWidth":1.2,"opacity":1},
     "encoding":{"x":{"field":"ax","type":"quantitative","axis":null},"y":{"field":"ay","type":"quantitative","axis":null},"shape":{"field":"dir","type":"nominal","scale":{"domain":["r","l"],"range":["M-1,-1L1,0L-1,1","M1,-1L-1,0L1,1"]},"legend":null}}},
    {"data":{"name":"lab"},"transform":[{"filter":"datum.p=='c'"}],
     "mark":{"type":"text","align":"left","baseline":"middle","fontSize":11,"font":"Liberation Sans"},
     "encoding":{"x":{"field":"x","type":"quantitative","axis":null},"y":{"field":"y","type":"quantitative","axis":null},"text":{"field":"t"}}}
   ]},
  {"width":428,"height":59,
   "resolve":{"axis":{"x":"independent","y":"independent"}},
   "layer":[
    {"data":{"name":"sig"},"transform":[{"filter":"datum.p=='c'"}],
     "mark":{"type":"line","interpolate":"step-after","strokeWidth":2.2,"strokeDash":[7,4]},
     "encoding":{
      "x":{"field":"x","type":"quantitative","scale":{"domain":[0,500],"nice":false,"zero":false},"axis":{"orient":"bottom","values":[0,50,100,150,200,250,300,350,400,450,500],"format":"d","ticks":false,"domain":true,"labelPadding":3,"title":"p\u209c\u1d50\u2071\u02e2\u02e2 [MeV]","titleAnchor":"end","titleFontSize":14.5,"titlePadding":5,"zindex":1}},
      "y":{"field":"zn","type":"quantitative","scale":{"domain":[0,1.25],"nice":false,"zero":false},"axis":{"orient":"left","values":[0,0.5,1],"format":"~g","ticks":false,"domain":true,"labelPadding":5,"title":"Zn","titleFontSize":14,"titlePadding":17,"zindex":1}},
      "stroke":{"field":"s","type":"nominal","scale":{"domain":["k","b","g","y"],"range":["#000000","#0000dd","#006600","#a0a0a0"]},"legend":null}
     }},
    {"data":{"name":"sig"},"transform":[{"filter":"datum.p=='c'"}],"mark":{"type":"point","opacity":0},
     "encoding":{
      "x":{"field":"x","type":"quantitative","axis":{"orient":"top","values":[0,50,100,150,200,250,300,350,400,450,500],"labels":false,"title":null,"tickSize":-6,"domain":true,"zindex":1}},
      "y":{"field":"zn","type":"quantitative","axis":{"orient":"right","values":[0,0.5,1],"labels":false,"title":null,"tickSize":-13,"domain":true,"grid":true,"gridDash":[1,2],"gridColor":"black","zindex":1}}
     }},
    {"data":{"name":"sig"},"transform":[{"filter":"datum.p=='c'"}],"mark":{"type":"point","opacity":0},
     "encoding":{
      "x":{"field":"x","type":"quantitative","axis":{"orient":"bottom","values":[0,50,100,150,200,250,300,350,400,450,500],"labels":false,"title":null,"tickSize":-6,"domain":false,"zindex":1}},
      "y":{"field":"zn","type":"quantitative","axis":{"orient":"left","values":[0,0.5,1],"labels":false,"title":null,"tickSize":-13,"domain":false,"zindex":1}}
     }},
    {"data":{"name":"sig"},"transform":[{"filter":"datum.p=='c'"}],"mark":{"type":"point","opacity":0},
     "encoding":{
      "x":{"field":"x","type":"quantitative","axis":{"orient":"bottom","values":[0,10,20,30,40,50,60,70,80,90,100,110,120,130,140,150,160,170,180,190,200,210,220,230,240,250,260,270,280,290,300,310,320,330,340,350,360,370,380,390,400,410,420,430,440,450,460,470,480,490,500],"labels":false,"title":null,"tickSize":-3,"domain":false,"zindex":1}},
      "y":{"field":"zn","type":"quantitative","axis":{"orient":"left","values":[0.1,0.2,0.3,0.4,0.6,0.7,0.8,0.9,1.1,1.2],"labels":false,"title":null,"tickSize":-7,"domain":false,"zindex":1}}
     }},
    {"data":{"name":"sig"},"transform":[{"filter":"datum.p=='c'"}],"mark":{"type":"point","opacity":0},
     "encoding":{
      "x":{"field":"x","type":"quantitative","axis":{"orient":"top","values":[0,10,20,30,40,50,60,70,80,90,100,110,120,130,140,150,160,170,180,190,200,210,220,230,240,250,260,270,280,290,300,310,320,330,340,350,360,370,380,390,400,410,420,430,440,450,460,470,480,490,500],"labels":false,"title":null,"tickSize":-3,"domain":false,"zindex":1}},
      "y":{"field":"zn","type":"quantitative","axis":{"orient":"right","values":[0.1,0.2,0.3,0.4,0.6,0.7,0.8,0.9,1.1,1.2],"labels":false,"title":null,"tickSize":-7,"domain":false,"zindex":1}}
     }},
    {"data":{"name":"x10"},"transform":[{"filter":"datum.p=='c'"}],
     "mark":{"type":"text","align":"left","baseline":"middle","dx":4,"dy":-3,"fontSize":12,"font":"Liberation Sans"},
     "encoding":{"x":{"field":"x","type":"quantitative","axis":null},"y":{"datum":0,"type":"quantitative","axis":null},"text":{"field":"t"}}}
   ]}
  ]},
 {"title":{"text":["(d)\u00a0 SR-DF p\u209c\u1d50\u2071\u02e2\u02e2\u00a0 Significance;\u00a0 m\u209c\u2082 ,\u00a0 nCLJ","and p\u209c\u1d50\u2071\u02e2\u02e2\u00a0 cuts applied."],"orient":"bottom","anchor":"start","offset":26,"dx":-6,"lineHeight":35},
  "spacing":-2,
  "resolve":{"scale":{"x":"independent","y":"independent","fill":"independent","stroke":"independent","shape":"independent"},"legend":{"fill":"independent","stroke":"independent","shape":"independent"}},
  "vconcat":[
  {"width":428,"height":240,
   "resolve":{"axis":{"x":"independent","y":"independent"}},
   "layer":[
    {"data":{"name":"stack"},"transform":[{"filter":"datum.p=='d'"}],
     "mark":{"type":"bar","orient":"vertical","strokeWidth":0},
     "encoding":{
      "x":{"field":"lo","type":"quantitative","scale":{"domain":[0,50],"nice":false,"zero":false},"axis":{"orient":"bottom","values":[0,5,10,15,20,25,30,35,40,45,50],"labels":false,"title":null,"tickSize":-8,"domain":true,"zindex":1}},
      "x2":{"field":"hi"},
      "y":{"field":"v","type":"quantitative","stack":null,"scale":{"type":"log","domain":[0.5,480],"nice":false,"clamp":true},"axis":{"orient":"left","values":[1,10,100],"labelExpr":"datum.value==1?'1':datum.value==10?'10':'10\u00b2'","ticks":false,"domain":false,"labelPadding":13,"title":"Events / 5","titleAnchor":"end","titleFontSize":13,"titlePadding":15}},
      "fill":{"field":"c","type":"nominal","scale":{"domain":["SM","FNP","Other","Single Top","tt\u0304","ZZ","WZ","WW"],"range":["#222222","#66ccff","#ff9933","#ffff33","#ff3333","#0099ff","#9966ff","#33cc66"]},
        "legend":{"orient":"none","legendX":258,"legendY":13.5,"title":null,"columns":2,"columnPadding":28,"rowPadding":0.3,"clipHeight":17,"symbolType":"M-1,-0.6H1V0.6H-1Z","symbolSize":256,"symbolStrokeWidth":0,"labelFontSize":10,"labelOffset":5,"padding":0,"labelLimit":200}}
     }},
    {"data":{"name":"band"},"transform":[{"filter":"datum.p=='d'"}],
     "mark":{"type":"bar","orient":"vertical","fillOpacity":0.45,"strokeWidth":0},
     "encoding":{
      "x":{"field":"lo","type":"quantitative","axis":{"orient":"top","values":[0,5,10,15,20,25,30,35,40,45,50],"labels":false,"title":null,"tickSize":-8,"domain":true,"zindex":1}},
      "x2":{"field":"hi"},
      "y":{"field":"dn","type":"quantitative","axis":{"orient":"right","values":[1,10,100],"labels":false,"title":null,"tickSize":-13,"domain":true,"zindex":1}},
      "y2":{"field":"up"},
      "fill":{"datum":"SM"}
     }},
    {"data":{"name":"tot"},"transform":[{"filter":"datum.p=='d'"}],
     "mark":{"type":"line","interpolate":"step-after","color":"black","strokeWidth":2},
     "encoding":{
      "x":{"field":"x","type":"quantitative","axis":{"orient":"bottom","values":[0,1,2,3,4,5,6,7,8,9,10,11,12,13,14,15,16,17,18,19,20,21,22,23,24,25,26,27,28,29,30,31,32,33,34,35,36,37,38,39,40,41,42,43,44,45,46,47,48,49,50],"labels":false,"title":null,"tickSize":-4,"domain":false,"zindex":1}},
      "y":{"field":"v","type":"quantitative","axis":{"orient":"left","values":[1,10,100],"labels":false,"title":null,"tickSize":-13,"domain":true,"zindex":1}}
     }},
    {"data":{"name":"sig"},"transform":[{"filter":"datum.p=='d'"}],
     "mark":{"type":"line","interpolate":"step-after","strokeWidth":2.6,"strokeDash":[3,3]},
     "encoding":{
      "x":{"field":"x","type":"quantitative","axis":{"orient":"top","values":[0,1,2,3,4,5,6,7,8,9,10,11,12,13,14,15,16,17,18,19,20,21,22,23,24,25,26,27,28,29,30,31,32,33,34,35,36,37,38,39,40,41,42,43,44,45,46,47,48,49,50],"labels":false,"title":null,"tickSize":-4,"domain":false,"zindex":1}},
      "y":{"field":"ev","type":"quantitative","axis":{"orient":"right","values":[0.6,0.7,0.8,0.9,2,3,4,5,6,7,8,9,20,30,40,50,60,70,80,90,200,300,400],"labels":false,"title":null,"tickSize":-7,"domain":false,"zindex":1}},
      "stroke":{"field":"s","type":"nominal","scale":{"domain":["k","b","g","y"],"range":["#000000","#0000dd","#006600","#a0a0a0"]},
        "legend":{"orient":"none","legendX":258,"legendY":79.5,"title":null,"symbolType":"stroke","symbolSize":676,"symbolStrokeWidth":2.5,"symbolDash":[3,2.5],"labelFontSize":8.5,"labelOffset":3,"rowPadding":0,"clipHeight":9,"padding":0,"labelLimit":300,
        "labelExpr":"datum.label=='k'?'\u03c7\u0303\u2081\u00b1\u03c7\u0303\u2081\u2213,m(\u03c7\u0303\u2081\u00b1,\u03c7\u0303\u2081\u2070)=(250,1) GeV':datum.label=='b'?'\u03c7\u0303\u2081\u00b1\u03c7\u0303\u2081\u2213,m(\u03c7\u0303\u2081\u00b1,\u03c7\u0303\u2081\u2070)=(300,50) GeV':datum.label=='g'?'\u03c7\u0303\u2081\u00b1\u03c7\u0303\u2081\u2213,m(\u03c7\u0303\u2081\u00b1,\u03c7\u0303\u2081\u2070)=(400,1) GeV':'\u03c7\u0303\u2081\u00b1\u03c7\u0303\u2081\u2213,m(\u03c7\u0303\u2081\u00b1,\u03c7\u0303\u2081\u2070)=(200,1) GeV'"}}
     }},
    {"data":{"name":"cut"},"transform":[{"filter":"datum.p=='d'"}],
     "mark":{"type":"rule","color":"black","strokeWidth":1.3},
     "encoding":{
      "x":{"field":"x","type":"quantitative","axis":null},
      "y":{"field":"top","type":"quantitative","axis":{"orient":"left","values":[0.6,0.7,0.8,0.9,2,3,4,5,6,7,8,9,20,30,40,50,60,70,80,90,200,300,400],"labels":false,"title":null,"tickSize":-7,"domain":false,"zindex":1}},
      "y2":{"datum":0.5}
     }},
    {"data":{"name":"cut"},"transform":[{"filter":"datum.p=='d'"}],
     "mark":{"type":"rule","color":"black","strokeWidth":1.2},
     "encoding":{"x":{"field":"x","type":"quantitative","axis":null},"x2":{"field":"ax"},"y":{"field":"ay","type":"quantitative","axis":null}}},
    {"data":{"name":"cut"},"transform":[{"filter":"datum.p=='d'"}],
     "mark":{"type":"point","filled":false,"color":"black","size":40,"strokeWidth":1.2,"opacity":1},
     "encoding":{"x":{"field":"ax","type":"quantitative","axis":null},"y":{"field":"ay","type":"quantitative","axis":null},"shape":{"field":"dir","type":"nominal","scale":{"domain":["r","l"],"range":["M-1,-1L1,0L-1,1","M1,-1L-1,0L1,1"]},"legend":null}}},
    {"data":{"name":"lab"},"transform":[{"filter":"datum.p=='d'"}],
     "mark":{"type":"text","align":"left","baseline":"middle","fontSize":11,"font":"Liberation Sans"},
     "encoding":{"x":{"field":"x","type":"quantitative","axis":null},"y":{"field":"y","type":"quantitative","axis":null},"text":{"field":"t"}}}
   ]},
  {"width":428,"height":59,
   "resolve":{"axis":{"x":"independent","y":"independent"}},
   "layer":[
    {"data":{"name":"sig"},"transform":[{"filter":"datum.p=='d'"}],
     "mark":{"type":"line","interpolate":"step-after","strokeWidth":2.2,"strokeDash":[7,4]},
     "encoding":{
      "x":{"field":"x","type":"quantitative","scale":{"domain":[0,50],"nice":false,"zero":false},"axis":{"orient":"bottom","values":[0,5,10,15,20,25,30,35,40,45,50],"format":"d","ticks":false,"domain":true,"labelPadding":3,"title":"p\u209c\u1d50\u2071\u02e2\u02e2 Significance","titleAnchor":"end","titleFontSize":14.5,"titlePadding":5,"zindex":1}},
      "y":{"field":"zn","type":"quantitative","scale":{"domain":[0,1.45],"nice":false,"zero":false},"axis":{"orient":"left","values":[0,0.5,1],"format":"~g","ticks":false,"domain":true,"labelPadding":5,"title":"Zn","titleFontSize":14,"titlePadding":17,"zindex":1}},
      "stroke":{"field":"s","type":"nominal","scale":{"domain":["k","b","g","y"],"range":["#000000","#0000dd","#006600","#a0a0a0"]},"legend":null}
     }},
    {"data":{"name":"sig"},"transform":[{"filter":"datum.p=='d'"}],"mark":{"type":"point","opacity":0},
     "encoding":{
      "x":{"field":"x","type":"quantitative","axis":{"orient":"top","values":[0,5,10,15,20,25,30,35,40,45,50],"labels":false,"title":null,"tickSize":-6,"domain":true,"zindex":1}},
      "y":{"field":"zn","type":"quantitative","axis":{"orient":"right","values":[0,0.5,1],"labels":false,"title":null,"tickSize":-13,"domain":true,"grid":true,"gridDash":[1,2],"gridColor":"black","zindex":1}}
     }},
    {"data":{"name":"sig"},"transform":[{"filter":"datum.p=='d'"}],"mark":{"type":"point","opacity":0},
     "encoding":{
      "x":{"field":"x","type":"quantitative","axis":{"orient":"bottom","values":[0,5,10,15,20,25,30,35,40,45,50],"labels":false,"title":null,"tickSize":-6,"domain":false,"zindex":1}},
      "y":{"field":"zn","type":"quantitative","axis":{"orient":"left","values":[0,0.5,1],"labels":false,"title":null,"tickSize":-13,"domain":false,"zindex":1}}
     }},
    {"data":{"name":"sig"},"transform":[{"filter":"datum.p=='d'"}],"mark":{"type":"point","opacity":0},
     "encoding":{
      "x":{"field":"x","type":"quantitative","axis":{"orient":"bottom","values":[0,1,2,3,4,5,6,7,8,9,10,11,12,13,14,15,16,17,18,19,20,21,22,23,24,25,26,27,28,29,30,31,32,33,34,35,36,37,38,39,40,41,42,43,44,45,46,47,48,49,50],"labels":false,"title":null,"tickSize":-3,"domain":false,"zindex":1}},
      "y":{"field":"zn","type":"quantitative","axis":{"orient":"left","values":[0.1,0.2,0.3,0.4,0.6,0.7,0.8,0.9,1.1,1.2,1.3,1.4],"labels":false,"title":null,"tickSize":-7,"domain":false,"zindex":1}}
     }},
    {"data":{"name":"sig"},"transform":[{"filter":"datum.p=='d'"}],"mark":{"type":"point","opacity":0},
     "encoding":{
      "x":{"field":"x","type":"quantitative","axis":{"orient":"top","values":[0,1,2,3,4,5,6,7,8,9,10,11,12,13,14,15,16,17,18,19,20,21,22,23,24,25,26,27,28,29,30,31,32,33,34,35,36,37,38,39,40,41,42,43,44,45,46,47,48,49,50],"labels":false,"title":null,"tickSize":-3,"domain":false,"zindex":1}},
      "y":{"field":"zn","type":"quantitative","axis":{"orient":"right","values":[0.1,0.2,0.3,0.4,0.6,0.7,0.8,0.9,1.1,1.2,1.3,1.4],"labels":false,"title":null,"tickSize":-7,"domain":false,"zindex":1}}
     }}
   ]}
  ]}
 ]}
]
}
